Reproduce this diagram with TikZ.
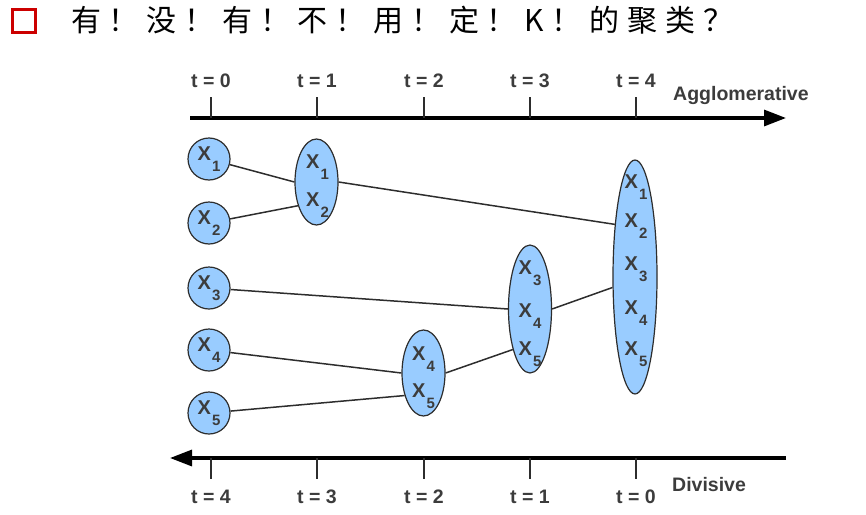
\documentclass[tikz,border=0pt]{standalone}
\usepackage{fontspec}
\setmainfont{Liberation Sans}
\newfontfamily\cjk[LetterSpace=26]{Noto Sans CJK SC}
\usepackage{tikz}
\usetikzlibrary{arrows.meta,positioning,shapes.geometric,calc}
\definecolor{clblue}{RGB}{153,204,255}
\definecolor{cldark}{RGB}{45,45,45}
\definecolor{txgray}{RGB}{60,60,60}
\definecolor{hdred}{RGB}{204,0,0}
\newcommand{\xlab}[1]{X\kern1pt\raisebox{-11pt}{\fontsize{15}{15}\selectfont #1}}
\tikzset{
  point/.style={circle, draw=cldark, fill=clblue, line width=1.2pt, minimum size=42pt, inner sep=0pt,
    text=txgray, font=\bfseries\fontsize{20}{20}\selectfont},
  cluster/.style={ellipse, draw=cldark, fill=clblue, line width=1.2pt, minimum width=43pt, inner sep=0pt},
  xname/.style={anchor=base, inner sep=0pt, text=txgray, font=\bfseries\fontsize{20}{20}\selectfont},
  link/.style={cldark, line width=1.5pt},
  timeline/.style={line width=3.2pt, -{Triangle[length=22pt,width=16pt]}},
  tmark/.style={cldark, line width=1.4pt},
  tlab/.style={anchor=base, inner sep=0pt, text=txgray, font=\bfseries\fontsize{19.5}{19.5}\selectfont}
}
\begin{document}
\begin{tikzpicture}[x=1pt, y=-1pt]
\useasboundingbox (0,0) rectangle (866,514);
% heading
\node[draw=hdred, line width=3pt, minimum size=23pt, inner sep=0pt] (bullet) at (24,21) {};
\node[anchor=base west, inner sep=0pt] (title) at (71,31)
  {\cjk\fontsize{30}{30}\selectfont 有！没！有！不！用！定！K！的聚类？};
% time axes
\coordinate (agS) at (190,118);
\coordinate (agE) at (786,118);
\draw[timeline] (agS) -- (agE);
\node[tlab, anchor=base west] (aggl) at (673,100) {Agglomerative};
\foreach \t/\x in {0/211,1/317,2/424,3/530,4/636} {
  \draw[tmark] (\x,97) -- (\x,118);
  \node[tlab] (top-\t) at (\x,87) {t = \t};
}
\coordinate (dvS) at (786,458);
\coordinate (dvE) at (170,458);
\draw[timeline] (dvS) -- (dvE);
\node[tlab, anchor=base west] (divi) at (672,491) {Divisive};
\foreach \t/\x in {4/211,3/317,2/424,1/530,0/636} {
  \draw[tmark] (\x,458) -- (\x,479);
  \node[tlab] (bot-\t) at (\x,503) {t = \t};
}
% single points
\foreach \i/\y in {1/159,2/223,3/288,4/350,5/413}
  \node[point] (x\i) at (209,\y) {\xlab{\i}};
% clusters
\node[cluster, minimum height=86pt] (c12) at (316.5,182) {};
\node[cluster, minimum height=86pt] (c45) at (423.5,373) {};
\node[cluster, minimum height=128pt] (c345) at (530,309) {};
\node[cluster, minimum width=44pt, minimum height=234pt] (call) at (635,277) {};
\foreach \i/\dy in {1/-14,2/24}
  \node[xname] (c12-\i) at ($(c12.center)+(1,\dy)$) {\xlab{\i}};
\foreach \i/\dy in {4/-13,5/24}
  \node[xname] (c45-\i) at ($(c45.center)+(0,\dy)$) {\xlab{\i}};
\foreach \i/\dy in {3/-35,4/8,5/46}
  \node[xname] (c345-\i) at ($(c345.center)+(0,\dy)$) {\xlab{\i}};
\foreach \i/\dy in {1/-89,2/-50,3/-7,4/37,5/78}
  \node[xname] (call-\i) at ($(call.center)+(1,\dy)$) {\xlab{\i}};
% merges
\draw[link] (x1) -- (c12.west);
\draw[link] (x2) -- (c12.232);
\draw[link] (x3) -- (c345.west);
\draw[link] (x4) -- (c45.west);
\draw[link] (x5) -- (c45.230);
\draw[link] (c12.east) -- (call.111);
\draw[link] (c45.east) -- (c345.247);
\draw[link] (c345.east) -- (call.205);
\end{tikzpicture}
\end{document}
